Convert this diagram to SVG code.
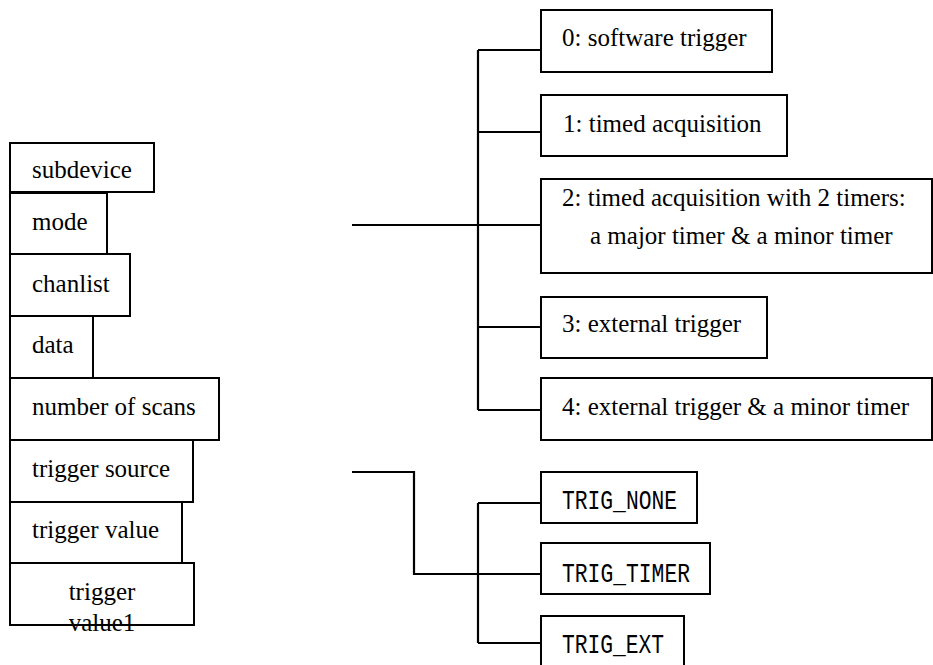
<svg xmlns="http://www.w3.org/2000/svg" width="933" height="665" viewBox="0 0 933 665">
  <style>
    .box { fill: #fff; stroke: #000; stroke-width: 2; }
    .lbl { font-family: "Liberation Serif", "Times New Roman", serif; font-size: 25px; fill: #000; }
    .mono { font-family: "Liberation Mono", "Courier New", monospace; font-size: 27px; fill: #000; }
    .wire { fill: none; stroke: #000; stroke-width: 2.2; }
  </style>
  <rect width="933" height="665" fill="#fff"/>

  <!-- command fields stack -->
  <g id="subdevice"><rect class="box" x="10" y="143" width="144" height="49"/><text class="lbl" x="32" y="178">subdevice</text></g>
  <g id="mode"><rect class="box" x="10" y="193" width="97" height="61"/><text class="lbl" x="32" y="230">mode</text></g>
  <g id="chanlist"><rect class="box" x="10" y="254" width="120" height="62"/><text class="lbl" x="32" y="292">chanlist</text></g>
  <g id="data"><rect class="box" x="10" y="316" width="83" height="62"/><text class="lbl" x="32" y="353">data</text></g>
  <g id="nscans"><rect class="box" x="10" y="378" width="209" height="62"/><text class="lbl" x="32" y="415">number of scans</text></g>
  <g id="trig-source"><rect class="box" x="10" y="440" width="183" height="62"/><text class="lbl" x="32" y="477">trigger source</text></g>
  <g id="trig-value"><rect class="box" x="10" y="502" width="172" height="61"/><text class="lbl" x="32" y="538">trigger value</text></g>
  <g id="trig-value1"><rect class="box" x="10" y="563" width="184" height="62"/><text class="lbl" text-anchor="middle" x="102" y="600">trigger</text><text class="lbl" text-anchor="middle" x="102" y="631">value1</text></g>

  <!-- mode options -->
  <g id="mode0"><rect class="box" x="541" y="10" width="231" height="62"/><text class="lbl" x="562" y="46">0: software trigger</text></g>
  <g id="mode1"><rect class="box" x="541" y="95" width="246" height="61"/><text class="lbl" x="563" y="132">1: timed acquisition</text></g>
  <g id="mode2"><rect class="box" x="541" y="179" width="391" height="94"/><text class="lbl" x="562" y="206">2: timed acquisition with 2 timers:</text><text class="lbl" x="590" y="244">a major timer &amp; a minor timer</text></g>
  <g id="mode3"><rect class="box" x="541" y="297" width="226" height="61"/><text class="lbl" x="562" y="332">3: external trigger</text></g>
  <g id="mode4"><rect class="box" x="541" y="378" width="391" height="62"/><text class="lbl" x="562" y="415">4: external trigger &amp; a minor timer</text></g>

  <!-- trigger source options -->
  <g id="trig-none"><rect class="box" x="541" y="472" width="156" height="51"/><text class="mono" x="562" y="509" textLength="115" lengthAdjust="spacingAndGlyphs">TRIG_NONE</text></g>
  <g id="trig-timer"><rect class="box" x="541" y="543" width="169" height="51"/><text class="mono" x="562" y="582" textLength="128" lengthAdjust="spacingAndGlyphs">TRIG_TIMER</text></g>
  <g id="trig-ext"><rect class="box" x="541" y="616" width="143" height="60"/><text class="mono" x="562" y="653" textLength="102" lengthAdjust="spacingAndGlyphs">TRIG_EXT</text></g>

  <!-- connectors -->
  <g id="connectors">
    <path class="wire" d="M352 225 H541"/>
    <path class="wire" d="M478 50 V410"/>
    <path class="wire" d="M478 50 H541 M478 132 H541 M478 327 H541 M478 410 H541"/>
    <path class="wire" d="M352 472 H414 V574 H541"/>
    <path class="wire" d="M478 503 V643"/>
    <path class="wire" d="M478 503 H541 M478 643 H541"/>
  </g>
</svg>
